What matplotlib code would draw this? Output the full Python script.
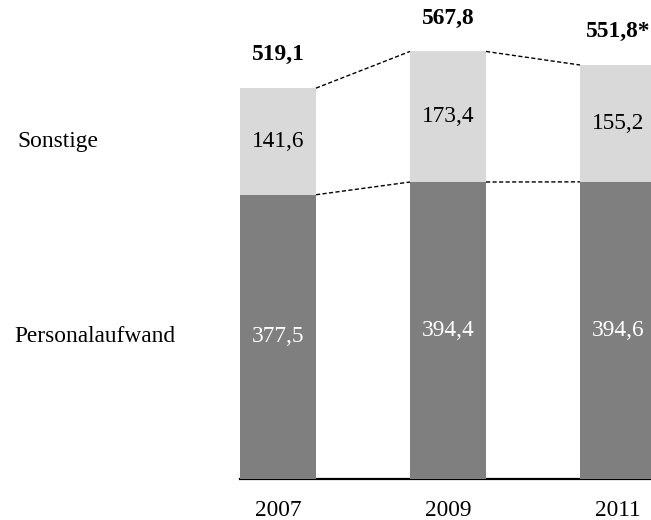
import matplotlib
matplotlib.use("Agg")
import matplotlib.pyplot as plt
import matplotlib.transforms as mtransforms
import numpy as np

years = ["2007", "2009", "2011"]
personal = [377.5, 394.4, 394.6]
sonstige = [141.6, 173.4, 155.2]
totals = ["519,1", "567,8", "551,8*"]
series_names = ["Personalaufwand", "Sonstige"]

c_personal = "#7f7f7f"
c_sonst = "#d9d9d9"

plt.rcParams["font.family"] = ["Liberation Serif", "DejaVu Serif"]
FS = 16.8

W, H = 651, 520
fig = plt.figure(figsize=(W / 100, H / 100), dpi=100)
px_per_unit = 0.753
base_px = 479
ax = fig.add_axes([240 / W, (H - base_px) / H, (W - 240) / W, base_px / H])

x = np.arange(len(years))
bw = 76 / 170
ax.set_xlim(-bw / 2, (W - 278) / 170)
ax.set_ylim(0, base_px / px_per_unit)

ax.bar(x, personal, width=bw, color=c_personal, zorder=2)
ax.bar(x, sonstige, width=bw, bottom=personal, color=c_sonst, zorder=2)

tops = np.array(personal) + np.array(sonstige)
for i in range(len(x) - 1):
    for yv in (personal, tops):
        ax.plot([x[i] + bw / 2, x[i + 1] - bw / 2], [yv[i], yv[i + 1]],
                color="black", lw=1.0, dashes=(3.0, 1.7), zorder=3, clip_on=False)

for i in range(len(x)):
    ax.text(x[i], personal[i] / 2, f"{personal[i]:.1f}".replace(".", ","),
            ha="center", va="center", color="white", fontsize=FS)
    ax.text(x[i], personal[i] + sonstige[i] / 2, f"{sonstige[i]:.1f}".replace(".", ","),
            ha="center", va="center", color="black", fontsize=FS)
    ax.annotate(totals[i], (x[i], tops[i]), xytext=(0, 24), textcoords="offset points",
                ha="center", va="center", fontsize=FS, fontweight="bold", annotation_clip=False)
    ax.annotate(years[i], (x[i], 0), xytext=(0, -22.5), textcoords="offset points",
                ha="center", va="center", fontsize=FS, annotation_clip=False)

tr = mtransforms.blended_transform_factory(fig.transFigure, ax.transData)
ax.text(14 / W, personal[0] / 2, series_names[0], transform=tr, ha="left", va="center", fontsize=FS)
ax.text(17 / W, personal[0] + sonstige[0] / 2, series_names[1], transform=tr, ha="left", va="center", fontsize=FS)

for s in ("top", "right", "left"):
    ax.spines[s].set_visible(False)
ax.spines["bottom"].set_linewidth(1.6)
ax.spines["bottom"].set_zorder(1)
ax.set_xticks([])
ax.set_yticks([])

fig.savefig("out.png", dpi=100)
